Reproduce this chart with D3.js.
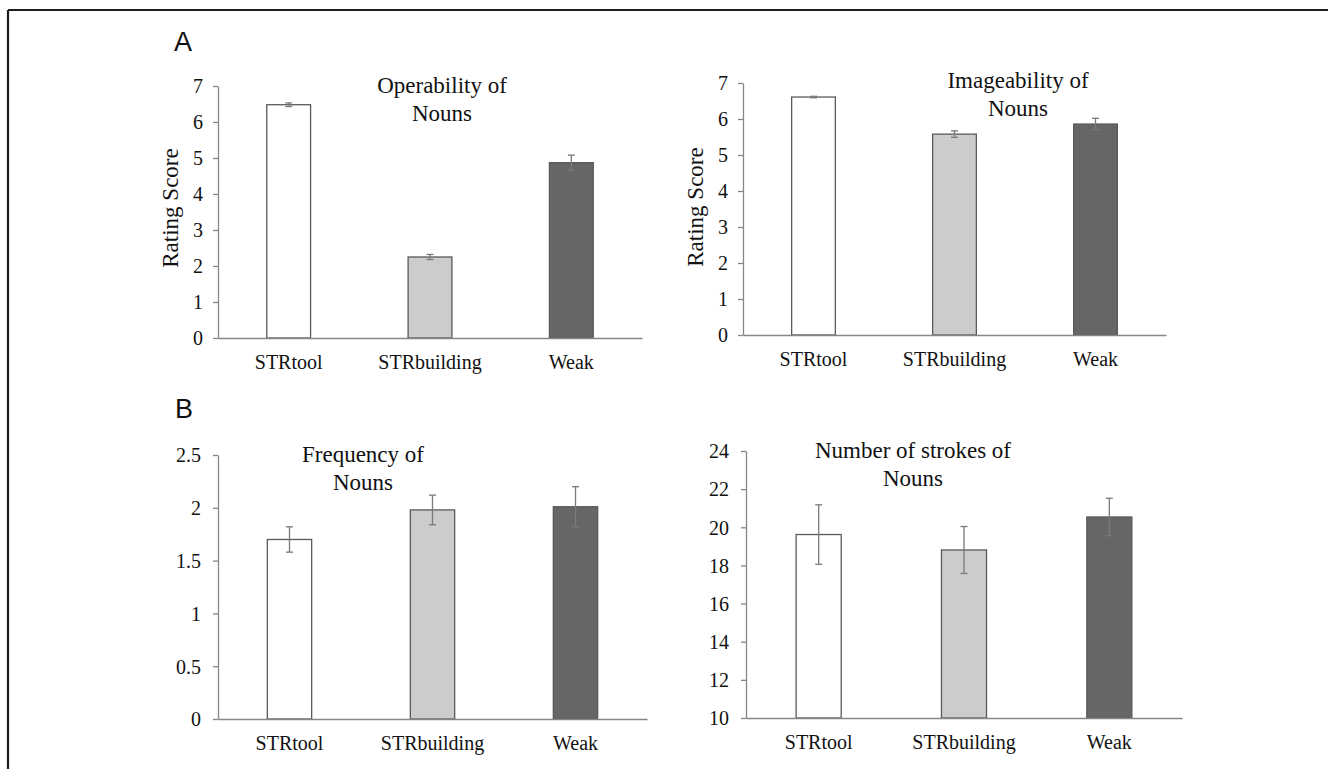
<!DOCTYPE html>
<html>
<head>
<meta charset="utf-8">
<script src="https://cdn.jsdelivr.net/npm/d3@7"></script>
<style>
  html, body { margin: 0; padding: 0; background: #ffffff; }
  svg { display: block; }
</style>
</head>
<body>
<svg id="chart" width="1328" height="769"></svg>
<script>
// ---------------- data ----------------
const categories = ["STRtool", "STRbuilding", "Weak"];

const operabilityMeans = [6.48, 2.25, 4.87];
const operabilityErrors = [0.05, 0.07, 0.21];

const imageabilityMeans = [6.61, 5.58, 5.86];
const imageabilityErrors = [0.02, 0.09, 0.16];

const frequencyMeans = [1.70, 1.98, 2.01];
const frequencyErrors = [0.12, 0.14, 0.19];

const strokesMeans = [19.62, 18.81, 20.54];
const strokesErrors = [1.56, 1.23, 0.98];

const ratingTicks = [0, 1, 2, 3, 4, 5, 6, 7];
const frequencyTicks = [0, 0.5, 1, 1.5, 2, 2.5];
const strokesTicks = [10, 12, 14, 16, 18, 20, 22, 24];

const titleOperability = ["Operability of", "Nouns"];
const titleImageability = ["Imageability of", "Nouns"];
const titleFrequency = ["Frequency of", "Nouns"];
const titleStrokes = ["Number of strokes of", "Nouns"];
const yAxisTitle = "Rating Score";
const panelLetters = ["A", "B"];

// ---------------- styles ----------------
const SERIF = "Liberation Serif";
const SANS = "Liberation Sans";
const barFills = ["#ffffff", "#cccccc", "#666666"];
const barStroke = "#5a5a5a";
const axisColor = "#868686";
const errColor = "#7a7a7a";

const svg = d3.select("#chart");

// frame (top and left edges only, as in reference)
svg.append("line").attr("x1", 8).attr("y1", 10).attr("x2", 1328).attr("y2", 10)
  .attr("stroke", "#1e1e1e").attr("stroke-width", 2.2);
svg.append("line").attr("x1", 8).attr("y1", 10).attr("x2", 8).attr("y2", 769)
  .attr("stroke", "#1e1e1e").attr("stroke-width", 2.2);

// panel letters
svg.append("text").attr("x", 174).attr("y", 51).text(panelLetters[0])
  .attr("font-family", SANS).attr("font-size", 27).attr("fill", "#111");
svg.append("text").attr("x", 175).attr("y", 418).text(panelLetters[1])
  .attr("font-family", SANS).attr("font-size", 27).attr("fill", "#111");

const panels = [
  { means: operabilityMeans, errs: operabilityErrors, ticks: ratingTicks, title: titleOperability,
    x0: 218, x1: 642, yBottom: 338, yTop: 86, titleX: 442, titleY: 93, yLabel: true, ylx: 177.5, yly: 208,
    pad: 10, catY: 369, fmt: d3.format("d") },
  { means: imageabilityMeans, errs: imageabilityErrors, ticks: ratingTicks, title: titleImageability,
    x0: 743, x1: 1166, yBottom: 335, yTop: 83, titleX: 1018, titleY: 88, yLabel: true, ylx: 703, yly: 207,
    pad: 10, catY: 366, fmt: d3.format("d") },
  { means: frequencyMeans, errs: frequencyErrors, ticks: frequencyTicks, title: titleFrequency,
    x0: 218, x1: 647, yBottom: 719, yTop: 455, titleX: 363, titleY: 462, yLabel: false,
    pad: 12, catY: 750, fmt: d => String(d) },
  { means: strokesMeans, errs: strokesErrors, ticks: strokesTicks, title: titleStrokes,
    x0: 746, x1: 1182, yBottom: 718, yTop: 451, titleX: 913, titleY: 458, yLabel: false,
    pad: 12, catY: 749, fmt: d3.format("d") }
];

panels.forEach(p => {
  const g = svg.append("g");
  const x = d3.scaleBand().domain(categories).range([p.x0, p.x1])
    .paddingInner(0.69).paddingOuter(0.345);
  const y = d3.scaleLinear().domain([p.ticks[0], p.ticks[p.ticks.length - 1]])
    .range([p.yBottom, p.yTop]);

  // bars
  g.selectAll("rect.bar").data(p.means).join("rect").attr("class", "bar")
    .attr("x", (d, i) => x(categories[i]))
    .attr("width", x.bandwidth())
    .attr("y", d => y(d))
    .attr("height", d => y(p.ticks[0]) - y(d))
    .attr("fill", (d, i) => barFills[i])
    .attr("stroke", barStroke).attr("stroke-width", 1.3);

  // y axis
  const yAxis = g.append("g").attr("transform", `translate(${p.x0},0)`)
    .call(d3.axisLeft(y).tickValues(p.ticks).tickFormat(p.fmt).tickSize(5).tickSizeOuter(0).tickPadding(p.pad));
  yAxis.attr("font-family", SERIF).attr("font-size", 20);
  yAxis.select(".domain").attr("stroke", axisColor).attr("stroke-width", 1.3);
  yAxis.selectAll(".tick line").attr("stroke", axisColor).attr("stroke-width", 1.3);
  yAxis.selectAll(".tick text").attr("font-family", SERIF).attr("font-size", 20).attr("fill", "#111")
    .attr("dy", "0.34em");

  // x axis
  const xAxis = g.append("g").attr("transform", `translate(0,${p.yBottom})`)
    .call(d3.axisBottom(x).tickSize(0).tickSizeOuter(0).tickPadding(0));
  xAxis.attr("font-family", SERIF).attr("font-size", 20);
  xAxis.select(".domain").attr("stroke", axisColor).attr("stroke-width", 1.6);
  xAxis.selectAll(".tick text").attr("font-family", SERIF).attr("font-size", 20).attr("fill", "#111")
    .attr("dy", null).attr("y", p.catY - p.yBottom);

  // error bars
  const cap = 3.5;
  const eb = g.selectAll("g.err").data(p.means).join("g").attr("class", "err");
  eb.append("line")
    .attr("x1", (d, i) => x(categories[i]) + x.bandwidth() / 2)
    .attr("x2", (d, i) => x(categories[i]) + x.bandwidth() / 2)
    .attr("y1", (d, i) => y(d - p.errs[i]))
    .attr("y2", (d, i) => y(d + p.errs[i]))
    .attr("stroke", errColor).attr("stroke-width", 1.3);
  [-1, 1].forEach(s => {
    eb.append("line")
      .attr("x1", (d, i) => x(categories[i]) + x.bandwidth() / 2 - cap)
      .attr("x2", (d, i) => x(categories[i]) + x.bandwidth() / 2 + cap)
      .attr("y1", (d, i) => y(d + s * p.errs[i]))
      .attr("y2", (d, i) => y(d + s * p.errs[i]))
      .attr("stroke", errColor).attr("stroke-width", 1.3);
  });

  // title
  const t = g.append("text").attr("font-family", SERIF).attr("font-size", 23)
    .attr("fill", "#111").attr("text-anchor", "middle");
  p.title.forEach((line, i) => {
    t.append("tspan").attr("x", p.titleX).attr("y", p.titleY + i * 27.7).text(line);
  });

  // y axis label
  if (p.yLabel) {
    g.append("text").attr("font-family", SERIF).attr("font-size", 23)
      .attr("fill", "#111").attr("text-anchor", "middle")
      .attr("transform", `translate(${p.ylx},${p.yly}) rotate(-90)`)
      .text(yAxisTitle);
  }
});
</script>
</body>
</html>
